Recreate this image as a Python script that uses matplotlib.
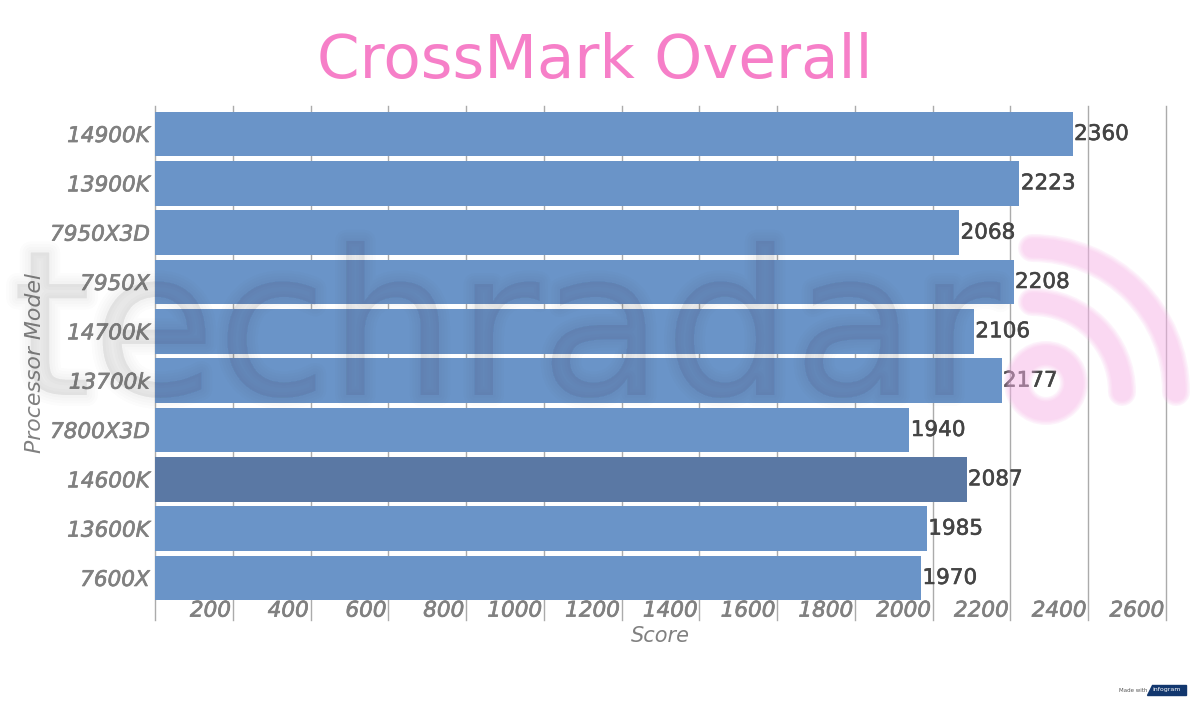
import matplotlib.pyplot as plt
import matplotlib.patheffects as pe
from matplotlib.patches import Arc, Circle, Polygon
from matplotlib.transforms import ScaledTranslation

processors = ["14900K", "13900K", "7950X3D", "7950X", "14700K",
              "13700k", "7800X3D", "14600K", "13600K", "7600X"]
scores = [2360, 2223, 2068, 2208, 2106, 2177, 1940, 2087, 1985, 1970]
highlight = "14600K"
x_ticks = list(range(0, 2800, 200))

W, H = 1200, 704
BLUE = "#6A94C8"
DARK = "#5A78A4"
PINK = "#F67FC8"
GREY = "#808080"
INK = "#444444"

fig = plt.figure(figsize=(W / 100, H / 100), dpi=100)
ax = fig.add_axes([155 / W, 1 - 620 / H, 1011 / W, 514 / H])

colors = [DARK if p == highlight else BLUE for p in processors]
bars = ax.barh(range(len(processors)), scores, height=0.9, color=colors, zorder=3)
ax.set_xlim(0, 2600)
ax.set_ylim(9.852, -0.568)

heavy_ink = [pe.withStroke(linewidth=0.4, foreground=INK)]
heavy_grey = [pe.withStroke(linewidth=0.5, foreground=GREY)]

value_labels = ax.bar_label(bars, labels=[str(s) for s in scores], padding=1,
                            fontsize=15.5, color=INK, zorder=5)
for lab in value_labels:
    lab.set_path_effects(heavy_ink)

ax.set_yticks(range(len(processors)), processors)
ax.tick_params(axis="y", length=0, pad=4, labelsize=15.5, labelcolor=GREY)
for lab in ax.get_yticklabels():
    lab.set_fontstyle("italic")
    lab.set_path_effects(heavy_grey)

# x labels sit inside the grid, right aligned against each line
ax.set_xticks(x_ticks, [""] + [str(t) for t in x_ticks[1:]])
ax.tick_params(axis="x", length=0, pad=-19, labelsize=15.5, labelcolor=GREY)
shift = ScaledTranslation(-2 / 100, -7 / 100, fig.dpi_scale_trans)
for lab in ax.get_xticklabels():
    lab.set_ha("right")
    lab.set_fontstyle("italic")
    lab.set_path_effects(heavy_grey)
    lab.set_transform(lab.get_transform() + shift)

ax.grid(axis="x", color="#ABABAB", linewidth=1, zorder=1, clip_on=False)
for side in ax.spines.values():
    side.set_visible(False)

fig.text(660 / W, 1 - 636 / H, "Score", ha="center", va="center",
         fontsize=15, color=GREY, style="italic")
fig.text(35 / W, 1 - 363 / H, "Processor Model", rotation=90, ha="center",
         va="center", fontsize=15.8, color=GREY, style="italic")

fig.text(595 / W, 1 - 78 / H, "CrossMark Overall", ha="center", va="baseline",
         fontsize=44, color=PINK)

# watermark drawn over the whole figure in pixel coordinates
wm = fig.add_axes([0, 0, 1, 1], zorder=10)
wm.set_xlim(0, W)
wm.set_ylim(H, 0)
wm.axis("off")
wm.patch.set_alpha(0)

# stacked strokes stand in for the soft blur of the original mark
blur = [pe.Stroke(linewidth=w, foreground=INK, alpha=0.016) for w in (16, 12, 8, 4)]
wm.text(12, 395, "techradar", fontsize=146, color=INK, alpha=0.03,
        ha="left", va="baseline", path_effects=blur + [pe.Normal()])

arc_pink = "#F7B4E8"
for r in (144, 90):
    for extra in (6, 3, 0, -3):
        wm.add_patch(Arc((1032, 392), 2 * r, 2 * r, theta1=270, theta2=360,
                         color=arc_pink, lw=(22 + extra) * 0.72, alpha=0.16,
                         capstyle="round"))
for extra in (6, 3, 0, -3):
    wm.add_patch(Circle((1046, 383), 28, fill=False, ec=arc_pink,
                        lw=(22 + extra) * 0.72, alpha=0.16))

# infogram badge
wm.text(1133, 690, "Made with", fontsize=4, color="#555555", ha="center", va="center")
wm.add_patch(Polygon([(1152, 685), (1186, 685), (1186, 695), (1147, 695)],
                     color="#12376E"))
wm.text(1167, 690, "infogram", fontsize=4.5, color="white", ha="center", va="center")

fig.savefig("out.png", dpi=100)
plt.close(fig)
